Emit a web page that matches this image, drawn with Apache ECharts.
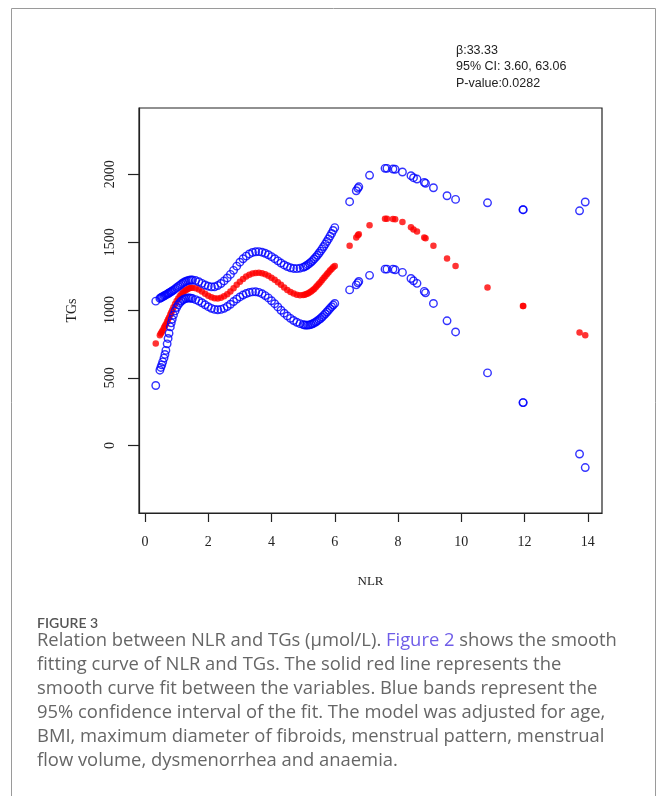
<!DOCTYPE html>
<html>
<head>
<meta charset="utf-8">
<script src="https://cdn.jsdelivr.net/npm/echarts@6/dist/echarts.min.js"></script>
<style>
  html, body { margin: 0; padding: 0; background: #fff; }
  #main { width: 659px; height: 796px; }
</style>
</head>
<body>
<div id="main"></div>
<script>
// NLR values of each subject (sorted)
var nlr = [
    0.34, 0.47, 0.50, 0.53, 0.56, 0.60, 0.63, 0.66, 0.70, 0.73, 0.76, 0.80, 0.83, 0.86, 0.90,
    0.95, 1.00, 1.05, 1.10, 1.15, 1.20, 1.25, 1.30, 1.35, 1.40, 1.45, 1.50,
    1.60, 1.70, 1.80, 1.90, 2.00, 2.10, 2.20, 2.30, 2.40, 2.50, 2.60, 2.70, 2.80, 2.90, 3.00,
    3.10, 3.20, 3.30, 3.40, 3.50, 3.60, 3.70, 3.80, 3.90, 4.00, 4.10, 4.20, 4.30, 4.40, 4.50,
    4.60, 4.70, 4.80, 4.90, 5.00,
    5.05, 5.10, 5.15, 5.20, 5.25, 5.30, 5.35, 5.40, 5.45, 5.50, 5.55, 5.60, 5.65, 5.70, 5.75,
    5.80, 5.85, 5.90, 5.95, 6.00,
    6.47, 6.68, 6.73, 6.76, 7.10, 7.59, 7.65, 7.84, 7.91, 8.14, 8.41, 8.49, 8.60, 8.83, 8.87,
    9.12, 9.55, 9.82, 10.83, 11.95, 11.96, 13.74, 13.92
];

// smooth curve fit (red)
var tgFit = [
    753, 814, 826, 838, 851, 868, 881, 895, 914, 929, 945, 966, 982, 998, 1020,
    1044, 1066, 1085, 1102, 1117, 1129, 1139, 1148, 1155, 1160, 1163, 1164,
    1160, 1150, 1137, 1120, 1104, 1093, 1086, 1085, 1090, 1101, 1116, 1136, 1160, 1185, 1208,
    1229, 1246, 1259, 1268, 1273, 1274, 1271, 1263, 1252, 1238, 1222, 1204, 1185, 1165, 1147,
    1132, 1121, 1113, 1109, 1110,
    1113, 1117, 1122, 1128, 1136, 1145, 1155, 1167, 1180, 1193, 1207, 1221, 1235, 1249, 1263,
    1277, 1290, 1302, 1314, 1325,
    1473, 1535, 1550, 1559, 1624, 1672, 1673, 1670, 1668, 1648, 1609, 1594, 1579, 1535, 1528,
    1473, 1380, 1325, 1166, 1030, 1030, 834, 814
];

// upper 95% CI (blue)
var tgUpper = [
    1065, 1085, 1090, 1094, 1098, 1103, 1107, 1111, 1117, 1121, 1125, 1131, 1135, 1140, 1146,
    1155, 1164, 1173, 1182, 1191, 1199, 1206, 1212, 1216, 1219, 1221, 1221,
    1217, 1208, 1196, 1184, 1175, 1170, 1171, 1180, 1195, 1214, 1236, 1262, 1292, 1323, 1352,
    1377, 1397, 1413, 1424, 1429, 1430, 1426, 1418, 1407, 1393, 1378, 1362, 1346, 1332, 1320,
    1311, 1306, 1305, 1308, 1314,
    1319, 1326, 1334, 1343, 1353, 1364, 1376, 1389, 1403, 1418, 1434, 1450, 1468, 1486, 1505,
    1524, 1544, 1564, 1586, 1607,
    1798, 1879, 1897, 1908, 1993, 2044, 2044, 2039, 2037, 2017, 1990, 1975, 1965, 1941, 1934,
    1901, 1842, 1815, 1790, 1739, 1739, 1731, 1796
];

// lower 95% CI (blue)
var tgLower = [
    443, 556, 576, 595, 617, 645, 672, 702, 750, 790, 828, 875, 905, 932, 962,
    993, 1018, 1038, 1054, 1066, 1075, 1081, 1085, 1088, 1088, 1087, 1084,
    1076, 1066, 1053, 1038, 1024, 1012, 1004, 1001, 1004, 1012, 1025, 1042, 1062, 1080, 1096,
    1110, 1121, 1129, 1133, 1134, 1130, 1120, 1106, 1089, 1068, 1046, 1022, 998, 976, 956,
    938, 922, 909, 899, 892,
    889, 888, 888, 890, 893, 898, 904, 911, 919, 928, 937, 948, 960, 972, 985,
    998, 1011, 1024, 1036, 1048,
    1148, 1185, 1200, 1210, 1255, 1301, 1301, 1301, 1296, 1277, 1232, 1215, 1196, 1137, 1126,
    1048, 920, 838, 536, 317, 317, -62, -162
];

var xTicks = [0, 2, 4, 6, 8, 10, 12, 14];
var yTicks = [0, 500, 1000, 1500, 2000];

var statLines = ['β:33.33', '95% CI: 3.60, 63.06', 'P-value:0.0282'];

var captionLines = [
    'fitting curve of NLR and TGs. The solid red line represents the',
    'smooth curve fit between the variables. Blue bands represent the',
    '95% confidence interval of the fit. The model was adjusted for age,',
    'BMI, maximum diameter of fibroids, menstrual pattern, menstrual',
    'flow volume, dysmenorrhea and anaemia.'
];

function pairs(ys) {
    return nlr.map(function (x, i) { return [x, ys[i]]; });
}

var myChart = echarts.init(document.getElementById('main'));

var serif = '"Liberation Serif", "DejaVu Serif", serif';
var capFont = '"Open Sans", Lato, sans-serif';
var capColor = '#666';
var capSize = 18.4;

var graphics = [
    // figure frame
    {
        type: 'rect',
        shape: { x: 11.5, y: 8.5, width: 644, height: 820 },
        style: { fill: 'none', stroke: '#9a9a9a', lineWidth: 1 },
        silent: true
    }
];

statLines.forEach(function (t, i) {
    graphics.push({
        type: 'text', left: 456, top: 44 + i * 16.5,
        style: { text: t, font: '12.5px "Liberation Sans", Arial, sans-serif', fill: '#222' }
    });
});

graphics.push({
    type: 'text', left: 37, top: 616,
    style: { text: 'FIGURE 3', font: '600 14px Lato, sans-serif', fill: '#555' }
});

graphics.push({
    type: 'text', left: 37, top: 632,
    style: {
        text: '{a|Relation between NLR and TGs (µmol/L). }{b|Figure 2}{a| shows the smooth}',
        rich: {
            a: { fontSize: capSize, fontFamily: capFont, fill: capColor },
            b: { fontSize: capSize, fontFamily: capFont, fill: '#6f5de8' }
        }
    }
});

captionLines.forEach(function (t, i) {
    graphics.push({
        type: 'text', left: 37, top: 656 + i * 24,
        style: { text: t, font: capSize + 'px ' + capFont, fill: capColor }
    });
});

var option = {
    animation: false,
    backgroundColor: '#fff',
    grid: {
        left: 139, top: 108, width: 463, height: 405,
        show: true, borderColor: '#222', borderWidth: 1.2
    },
    xAxis: {
        type: 'value',
        min: -0.19, max: 14.45,
        name: 'NLR', nameLocation: 'middle', nameGap: 62,
        nameTextStyle: { fontFamily: serif, fontSize: 13, color: '#222' },
        axisLine: { show: true, onZero: false, lineStyle: { color: '#222', width: 1.2 } },
        axisTick: { show: true, length: 9, lineStyle: { color: '#222', width: 1.2 }, customValues: xTicks },
        axisLabel: { margin: 22, fontFamily: serif, fontSize: 14, color: '#222', customValues: xTicks },
        splitLine: { show: false }
    },
    yAxis: {
        type: 'value',
        min: -497, max: 2489,
        name: 'TGs', nameLocation: 'middle', nameGap: 60, nameRotate: 90,
        nameTextStyle: { fontFamily: serif, fontSize: 14, color: '#222' },
        axisLine: { show: true, onZero: false, lineStyle: { color: '#222', width: 1.2 } },
        axisTick: { show: true, length: 11, lineStyle: { color: '#222', width: 1.2 }, customValues: yTicks },
        axisLabel: {
            rotate: 90, margin: 22, fontFamily: serif, fontSize: 14, color: '#222',
            customValues: yTicks,
            formatter: function (v) { return String(v); }
        },
        splitLine: { show: false }
    },
    graphic: graphics,
    series: [
        {
            name: 'fit', type: 'scatter', symbol: 'circle', symbolSize: 6.5,
            itemStyle: { color: '#ff0000' },
            data: pairs(tgFit), silent: true
        },
        {
            name: 'upper', type: 'scatter', symbol: 'circle', symbolSize: 7.5,
            itemStyle: { color: 'rgba(0,0,0,0)', borderColor: '#0000ff', borderWidth: 1.4 },
            data: pairs(tgUpper), silent: true
        },
        {
            name: 'lower', type: 'scatter', symbol: 'circle', symbolSize: 7.5,
            itemStyle: { color: 'rgba(0,0,0,0)', borderColor: '#0000ff', borderWidth: 1.4 },
            data: pairs(tgLower), silent: true
        }
    ]
};
myChart.setOption(option);
</script>
</body>
</html>
